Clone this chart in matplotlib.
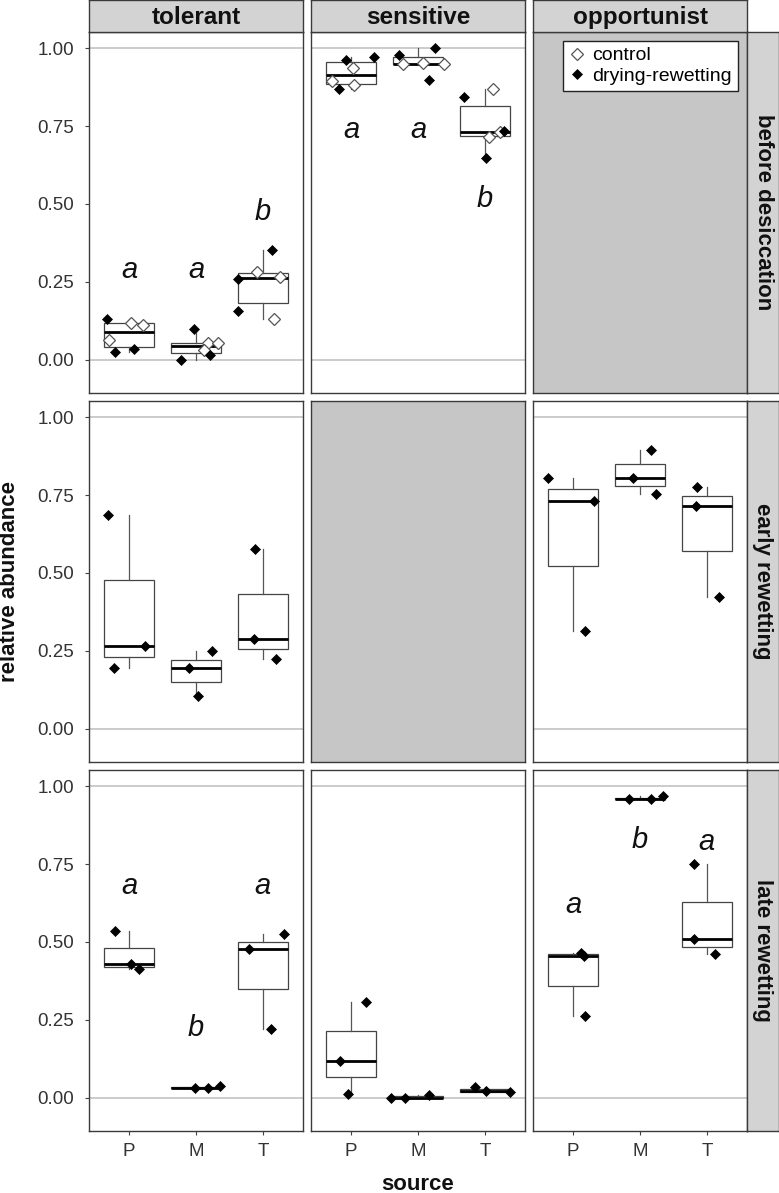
import matplotlib.pyplot as plt
from matplotlib.lines import Line2D
import numpy as np

plt.rcParams['font.family'] = ['Liberation Sans', 'DejaVu Sans']

sources = ['P', 'M', 'T']
groups = ['tolerant', 'sensitive', 'opportunist']
phases = ['before desiccation', 'early rewetting', 'late rewetting']
yticks = [0.0, 0.25, 0.5, 0.75, 1.0]
ytick_labels = ['0.00', '0.25', '0.50', '0.75', '1.00']

# before desiccation: control (open) and drying-rewetting (filled); rows = P, M, T
before_tol_ctrl = [[0.064, 0.119, 0.112], [0.054, 0.054, 0.032], [0.283, 0.265, 0.131]]
before_tol_dry = [[0.131, 0.026, 0.035], [0.000, 0.099, 0.016], [0.259, 0.155, 0.353]]
before_sens_ctrl = [[0.894, 0.936, 0.881], [0.949, 0.952, 0.949], [0.869, 0.715, 0.731]]
before_sens_dry = [[0.962, 0.971, 0.869], [0.978, 1.000, 0.897], [0.843, 0.734, 0.647]]

# rewetting phases: drying-rewetting only
early_tol = [[0.687, 0.266, 0.195], [0.195, 0.249, 0.105], [0.578, 0.288, 0.224]]
early_opp = [[0.805, 0.732, 0.313], [0.895, 0.805, 0.754], [0.777, 0.716, 0.422]]
late_tol = [[0.534, 0.428, 0.412], [0.032, 0.032, 0.038], [0.476, 0.524, 0.220]]
late_sens = [[0.118, 0.307, 0.013], [0.000, 0.000, 0.010], [0.035, 0.020, 0.018]]
late_opp = [[0.466, 0.454, 0.262], [0.958, 0.958, 0.968], [0.751, 0.508, 0.460]]

# horizontal jitter of the points (category units)
before_tol_ctrl_dx = [[-0.30, 0.03, 0.21], [0.18, 0.33, 0.12], [-0.09, 0.25, 0.16]]
before_tol_dry_dx = [[-0.33, -0.21, 0.07], [-0.22, -0.03, 0.21], [-0.37, -0.37, 0.13]]
before_sens_ctrl_dx = [[-0.28, 0.03, 0.04], [-0.22, 0.07, 0.39], [0.12, 0.06, 0.22]]
before_sens_dry_dx = [[-0.07, 0.34, -0.18], [-0.28, 0.25, 0.16], [-0.31, 0.28, 0.01]]
early_tol_dx = [[-0.31, 0.24, -0.22], [-0.10, 0.24, 0.03], [-0.12, -0.13, 0.19]]
early_opp_dx = [[-0.37, 0.31, 0.18], [0.16, -0.10, 0.24], [-0.15, -0.16, 0.18]]
late_tol_dx = [[-0.21, 0.03, 0.15], [-0.01, 0.18, 0.36], [-0.21, 0.31, 0.12]]
late_sens_dx = [[-0.16, 0.22, -0.04], [-0.40, -0.19, 0.16], [-0.15, 0.01, 0.37]]
late_opp_dx = [[0.12, 0.16, 0.18], [-0.16, 0.16, 0.34], [-0.19, -0.19, 0.12]]

# significance letters (baseline heights)
before_tol_letters = ['a', 'a', 'b']
before_tol_letter_y = [0.263, 0.263, 0.449]
before_sens_letters = ['a', 'a', 'b']
before_sens_letter_y = [0.712, 0.712, 0.490]
late_tol_letters = ['a', 'b', 'a']
late_tol_letter_y = [0.655, 0.198, 0.655]
late_opp_letters = ['a', 'b', 'a']
late_opp_letter_y = [0.594, 0.800, 0.796]

panels = {
    (0, 0): (before_tol_ctrl, before_tol_ctrl_dx, before_tol_dry, before_tol_dry_dx,
             before_tol_letters, before_tol_letter_y),
    (0, 1): (before_sens_ctrl, before_sens_ctrl_dx, before_sens_dry, before_sens_dry_dx,
             before_sens_letters, before_sens_letter_y),
    (0, 2): None,
    (1, 0): (None, None, early_tol, early_tol_dx, None, None),
    (1, 1): None,
    (1, 2): (None, None, early_opp, early_opp_dx, None, None),
    (2, 0): (None, None, late_tol, late_tol_dx, late_tol_letters, late_tol_letter_y),
    (2, 1): (None, None, late_sens, late_sens_dx, None, None),
    (2, 2): (None, None, late_opp, late_opp_dx, late_opp_letters, late_opp_letter_y),
}

W, H = 779, 1193
fig = plt.figure(figsize=(W / 100, H / 100), dpi=100)

col_left = [89, 311, 533]
row_top = [32, 401, 770]
pw, ph = 214, 361
border = '#3a3a3a'
strip_fill = '#d3d3d3'
empty_fill = '#c6c6c6'


def px_axes(x, y, w, h):
    return fig.add_axes([x / W, 1 - (y + h) / H, w / W, h / H])


xpos = np.arange(1, len(sources) + 1)

for r in range(3):
    for c in range(3):
        ax = px_axes(col_left[c], row_top[r], pw, ph)
        ax.set_xlim(0.4, 3.6)
        ax.set_ylim(-0.107, 1.052)
        for s in ax.spines.values():
            s.set_color(border)
            s.set_linewidth(1.0)
        spec = panels[(r, c)]
        if spec is None:
            ax.set_facecolor(empty_fill)
        else:
            ctrl, ctrl_dx, dry, dry_dx, letters, letter_y = spec
            ax.axhline(0, color='#c2c2c2', lw=1.2, zorder=1)
            ax.axhline(1, color='#c2c2c2', lw=1.2, zorder=1)
            if ctrl is not None:
                box_data = [ctrl[i] + dry[i] for i in range(3)]
            else:
                box_data = dry
            ax.boxplot(box_data, positions=xpos, widths=0.75, whis=1.5,
                       showfliers=False, showcaps=False, patch_artist=True,
                       boxprops=dict(facecolor='white', edgecolor='#444444', lw=0.9),
                       whiskerprops=dict(color='#555555', lw=0.9),
                       medianprops=dict(color='black', lw=2.0),
                       manage_ticks=False, zorder=2)
            if ctrl is not None:
                for i in range(3):
                    ax.plot(xpos[i] + np.array(ctrl_dx[i]), ctrl[i], ls='none',
                            marker='D', ms=6, mfc='white', mec='#555555', mew=0.9,
                            zorder=3)
            for i in range(3):
                ax.plot(xpos[i] + np.array(dry_dx[i]), dry[i], ls='none',
                        marker='D', ms=5.5, mfc='black', mec='black', mew=0.5,
                        zorder=4)
            if letters is not None:
                for i in range(3):
                    ax.text(xpos[i], letter_y[i], letters[i], ha='center',
                            va='baseline', fontsize=21, style='italic',
                            color='#111111', zorder=5)
        # ticks only on outer panels
        ax.tick_params(length=3, width=0.8, color='#444444', labelsize=13.5,
                       labelcolor='#333333')
        if c == 0:
            ax.set_yticks(yticks)
            ax.set_yticklabels(ytick_labels)
            ax.tick_params(axis='y', pad=7.5)
        else:
            ax.set_yticks([])
        if r == 2:
            ax.set_xticks(xpos)
            ax.set_xticklabels(sources)
            ax.tick_params(axis='x', pad=5.5)
        else:
            ax.set_xticks([])

        if r == 0 and c == 2:
            handles = [
                Line2D([], [], ls='none', marker='D', ms=6, mfc='white',
                       mec='#555555', mew=0.9, label='control'),
                Line2D([], [], ls='none', marker='D', ms=5.5, mfc='black',
                       mec='black', mew=0.5, label='drying-rewetting'),
            ]
            leg = ax.legend(handles=handles, loc='upper right',
                            bbox_to_anchor=(0.958, 0.975), fontsize=14,
                            frameon=True, fancybox=False, framealpha=1,
                            edgecolor='#222222', handlelength=0.8,
                            handletextpad=0.4, labelspacing=0.15,
                            borderpad=0.3, borderaxespad=0)
            leg.get_frame().set_linewidth(1.0)

# top strips
for c in range(3):
    sa = px_axes(col_left[c], 0, pw, 32)
    sa.set_facecolor(strip_fill)
    sa.set_xticks([])
    sa.set_yticks([])
    for s in sa.spines.values():
        s.set_color(border)
        s.set_linewidth(1.0)
    sa.text(0.5, 0.45, groups[c], transform=sa.transAxes, ha='center',
            va='center', fontsize=17.5, fontweight='bold', color='#111111')

# right strips
for r in range(3):
    sa = px_axes(747, row_top[r], 32, ph)
    sa.set_facecolor(strip_fill)
    sa.set_xticks([])
    sa.set_yticks([])
    for s in sa.spines.values():
        s.set_color(border)
        s.set_linewidth(1.0)
    sa.text(0.5, 0.5, phases[r], transform=sa.transAxes, ha='center',
            va='center', rotation=-90, fontsize=16, fontweight='bold',
            color='#111111')

fig.text(10 / W, 1 - 581 / H, 'relative abundance', rotation=90, ha='center',
         va='center', fontsize=16, fontweight='bold', color='#111111')
fig.text(418 / W, 1 - 1190 / H, 'source', ha='center', va='baseline',
         fontsize=16, fontweight='bold', color='#111111')

fig.savefig('out.png', dpi=100)
